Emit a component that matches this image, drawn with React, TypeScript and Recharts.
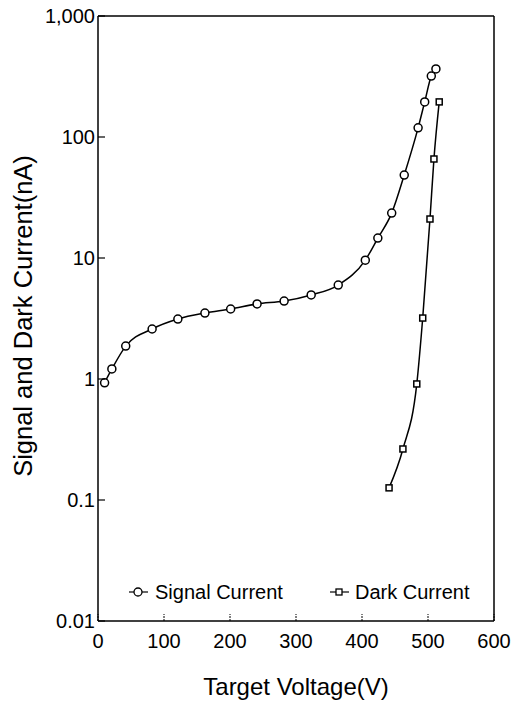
import {
  Legend,
  Line,
  LineChart,
  ReferenceLine,
  XAxis,
  YAxis,
} from "recharts";

const FONT = "'Liberation Sans', Arial, Helvetica, sans-serif";

// target voltage (V) / current (nA)
const signalVoltage = [10, 21, 42, 82, 121, 162, 201, 241, 282, 323, 364, 405, 424, 445, 464, 485, 495, 505, 512];
const signalCurrent = [0.93, 1.21, 1.87, 2.59, 3.13, 3.51, 3.79, 4.17, 4.41, 4.95, 5.98, 9.6, 14.6, 23.5, 48.5, 119, 195, 319, 365];

const darkVoltage = [441, 462, 483, 492, 503, 509, 517];
const darkCurrent = [0.126, 0.264, 0.91, 3.19, 21, 65.8, 195];

const xTicks = [0, 100, 200, 300, 400, 500, 600];
const yTicks = [0.01, 0.1, 1, 10, 100, 1000];

const signalData = signalVoltage.map((v, i) => ({ v, signal: signalCurrent[i] }));
const darkData = darkVoltage.map((v, i) => ({ v, dark: darkCurrent[i] }));

const fmtY = (t: number) => (t === 1000 ? "1,000" : String(t));

const YTick = (props: any) => {
  const { x, y, payload } = props;
  return (
    <g>
      <line x1={x + 3} x2={x + 10} y1={y} y2={y} stroke="#000" strokeWidth={1.2} />
      <text
        x={x}
        y={y}
        textAnchor="end"
        dominantBaseline="central"
        fontSize={20}
        fontFamily={FONT}
        fill="#000"
      >
        {fmtY(payload.value)}
      </text>
    </g>
  );
};

const XTick = (props: any) => {
  const { x, y, payload } = props;
  return (
    <g>
      <line x1={x} x2={x} y1={y} y2={y - 7} stroke="#000" strokeWidth={1} strokeDasharray="2 1" />
      <text x={x} y={y + 27} textAnchor="middle" fontSize={20} fontFamily={FONT} fill="#000">
        {payload.value}
      </text>
    </g>
  );
};

const YTitle = () => (
  <text
    x={23}
    y={316}
    transform="rotate(-90, 23, 316)"
    textAnchor="middle"
    dominantBaseline="central"
    fontSize={25.5}
    fontFamily={FONT}
    fill="#000"
  >
    Signal and Dark Current(nA)
  </text>
);

const CircleDot = (props: any) => {
  const { cx, cy } = props;
  if (cx == null || cy == null) return null;
  return <circle cx={cx} cy={cy} r={4} fill="#fff" stroke="#000" strokeWidth={1.5} />;
};

const SquareDot = (props: any) => {
  const { cx, cy } = props;
  if (cx == null || cy == null) return null;
  return <rect x={cx - 3} y={cy - 3} width={6} height={6} fill="#fff" stroke="#000" strokeWidth={1.5} />;
};

const LegendBox = () => (
  <div style={{ position: "relative", height: 24, fontFamily: FONT, fontSize: 20, color: "#000" }}>
    <svg width={22} height={24} style={{ position: "absolute", left: 0, top: 0 }}>
      <line x1={1} x2={20} y1={12} y2={12} stroke="#000" strokeWidth={1.2} />
      <circle cx={10} cy={12} r={4} fill="#fff" stroke="#000" strokeWidth={1.3} />
    </svg>
    <span style={{ position: "absolute", left: 27, top: 0, lineHeight: "24px", whiteSpace: "nowrap" }}>
      Signal Current
    </span>
    <svg width={22} height={24} style={{ position: "absolute", left: 201, top: 0 }}>
      <line x1={1} x2={20} y1={12} y2={12} stroke="#000" strokeWidth={1.2} />
      <rect x={7} y={9} width={6} height={6} fill="#fff" stroke="#000" strokeWidth={1.3} />
    </svg>
    <span style={{ position: "absolute", left: 227, top: 0, lineHeight: "24px", whiteSpace: "nowrap" }}>
      Dark Current
    </span>
  </div>
);

export default function App() {
  return (
    <div style={{ position: "absolute", left: 0, top: 0, width: 519, height: 703, background: "#fff" }}>
      <LineChart
        width={519}
        height={703}
        margin={{ top: 16, right: 25, left: 0, bottom: 0 }}
        style={{ fontFamily: FONT }}
      >
        <XAxis
          type="number"
          dataKey="v"
          domain={[0, 600]}
          ticks={xTicks}
          allowDataOverflow
          height={82}
          tickSize={0}
          tickMargin={0}
          tick={<XTick />}
          axisLine={{ stroke: "#000", strokeWidth: 1.5 }}
          tickLine={false}
          label={{
            value: "Target Voltage(V)",
            position: "insideBottom",
            offset: 8,
            fontSize: 24,
            fill: "#000",
            fontFamily: FONT,
          }}
        />
        <YAxis
          type="number"
          scale="log"
          domain={[0.01, 1000]}
          ticks={yTicks}
          allowDataOverflow
          width={98}
          tickSize={0}
          tickMargin={3}
          tick={<YTick />}
          axisLine={{ stroke: "#000", strokeWidth: 1.5 }}
          tickLine={false}
          label={<YTitle />}
        />
        <ReferenceLine y={1000} stroke="#000" strokeWidth={1.5} />
        <ReferenceLine x={600} stroke="#000" strokeWidth={1.5} />
        <Legend
          layout="vertical"
          align="center"
          verticalAlign="middle"
          content={<LegendBox />}
          wrapperStyle={{ left: 128, top: 580, width: 360, height: 24 }}
        />
        <Line
          data={signalData}
          dataKey="signal"
          type="monotone"
          stroke="#000"
          strokeWidth={1.5}
          dot={<CircleDot />}
          activeDot={false}
          isAnimationActive={false}
          legendType="circle"
        />
        <Line
          data={darkData}
          dataKey="dark"
          type="monotone"
          stroke="#000"
          strokeWidth={1.5}
          dot={<SquareDot />}
          activeDot={false}
          isAnimationActive={false}
          legendType="square"
        />
      </LineChart>
    </div>
  );
}
